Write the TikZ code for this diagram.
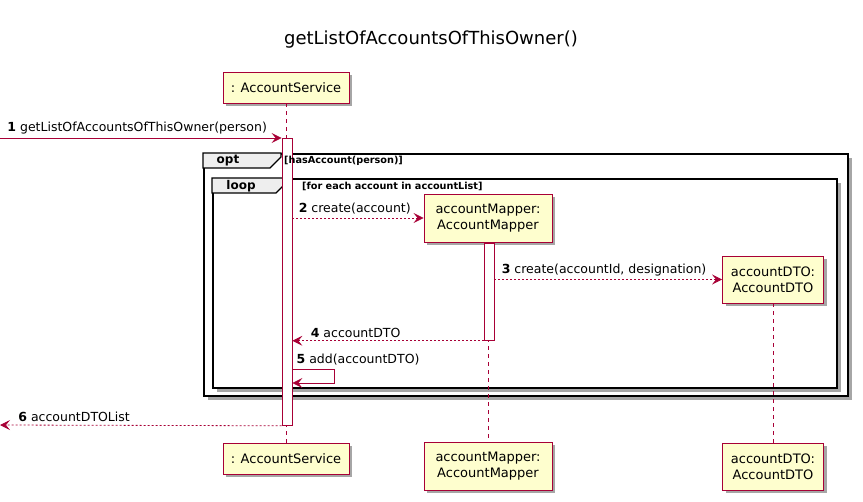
\documentclass[tikz,border=0pt]{standalone}
\usepackage{fontspec}
\setmainfont{DejaVu Sans}
\usetikzlibrary{arrows.meta, positioning, shadows}
\definecolor{umlred}{HTML}{A80036}
\definecolor{umlfill}{HTML}{FEFECE}
\definecolor{tabgray}{HTML}{EEEEEE}
\newcommand{\msgfont}{\fontsize{12.5}{15}\selectfont}
\newcommand{\guardfont}{\fontsize{9.7}{11}\selectfont\bfseries}

\begin{document}
\begin{tikzpicture}[x=1pt,y=-1pt,>={Stealth[length=10pt,width=10pt,inset=4pt]},
    umlshadow/.style={drop shadow={shadow xshift=3pt,shadow yshift=-3pt,opacity=0.35,fill=black}},
    actor/.style={draw=umlred,fill=umlfill,line width=0.9pt,align=center,inner sep=2pt,
      font=\fontsize{13}{16}\selectfont,umlshadow},
    lifeline/.style={draw=umlred,dashed,dash pattern=on 4pt off 4pt,line width=0.7pt},
    actbar/.style={draw=umlred,fill=white,line width=0.8pt,minimum width=10pt,inner sep=0pt},
    frame/.style={draw=black,fill=white,line width=1.6pt,inner sep=0pt,
      drop shadow={shadow xshift=4pt,shadow yshift=-4pt,opacity=0.35,fill=black}},
    tabbox/.style={draw=black,fill=tabgray,line width=1.2pt},
    tabtag/.style={font=\fontsize{12}{14}\selectfont\bfseries,inner sep=0pt},
    msg/.style={->,draw=umlred,line width=0.8pt},
    reply/.style={msg,dash pattern=on 2pt off 2pt},
    msglabel/.style={font=\msgfont,inner sep=1pt,anchor=south west}]
  \useasboundingbox (0,0) rectangle (863,502);

  % title
  \node[font=\fontsize{18}{21}\selectfont] (title) at (431,40) {getListOfAccountsOfThisOwner()};

  % fragments
  \node[frame,minimum width=644pt,minimum height=242pt,anchor=north west] (optFrame) at (203,153) {};
  \draw[tabbox] (optFrame.north west) -- (281,153) -- (281,157) -- (270,168) -- (203,168) -- cycle;
  \node[tabtag] (optTag) at (228,161) {opt};

  \node[frame,minimum width=624pt,minimum height=209pt,anchor=north west] (loopFrame) at (212,178) {};
  \draw[tabbox] (loopFrame.north west) -- (287,178) -- (287,182) -- (276,193) -- (212,193) -- cycle;
  \node[tabtag] (loopTag) at (241,186) {loop};

  % participants, top and bottom
  \node[actor,minimum width=126pt,minimum height=31pt] (svcTop) at (286,87.5) {: AccountService};
  \node[actor,minimum width=126pt,minimum height=31pt] (svcBot) at (286,458.5) {: AccountService};
  \node[actor,minimum width=128pt,minimum height=48pt] (mapTop) at (488,218) {accountMapper:\\AccountMapper};
  \node[actor,minimum width=128pt,minimum height=48pt] (mapBot) at (488,466.5) {accountMapper:\\AccountMapper};
  \node[actor,minimum width=101pt,minimum height=47pt] (dtoTop) at (773,279.5) {accountDTO:\\AccountDTO};
  \node[actor,minimum width=101pt,minimum height=47pt] (dtoBot) at (773,466.5) {accountDTO:\\AccountDTO};

  % lifelines
  \draw[lifeline] (svcTop.south) -- (svcBot.north);
  \draw[lifeline] (mapTop.south) -- (mapBot.north);
  \draw[lifeline] (dtoTop.south) -- (dtoBot.north);

  % activations
  \node[actbar,minimum height=287pt,anchor=north] (svcAct) at (287,138) {};
  \node[actbar,minimum height=97pt,anchor=north] (mapAct) at (489,243) {};

  % guards
  \node[font=\guardfont,anchor=west,inner sep=0pt] (optGuard) at (284,161) {[hasAccount(person)]};
  \node[font=\guardfont,anchor=west,inner sep=0pt] (loopGuard) at (302,186) {[for each account in accountList]};

  % messages
  \coordinate (in1) at (0,138);
  \coordinate (out6) at (0,425);
  \coordinate (self5) at (svcAct.east |- 0,369);
  \draw[msg] (in1) -- node[msglabel,pos=0,xshift=6pt,yshift=2pt] {\textbf{1} getListOfAccountsOfThisOwner(person)} (svcAct.north west);
  \draw[reply] (svcAct.east |- mapTop.west) -- node[msglabel,pos=0,xshift=5pt,yshift=2pt] {\textbf{2} create(account)} (mapTop.west);
  \draw[reply] (mapAct.east |- dtoTop.west) -- node[msglabel,pos=0,xshift=6pt,yshift=2pt] {\textbf{3} create(accountId, designation)} (dtoTop.west);
  \draw[reply] (mapAct.south west) -- node[msglabel,pos=1,xshift=17pt,yshift=2pt] {\textbf{4} accountDTO} (svcAct.east |- mapAct.south);
  \draw[msg] (self5) -- ++(42,0) -- ++(0,14) -- ++(-42,0);
  \node[msglabel] (lbl5) at ([xshift=3pt,yshift=3pt]self5) {\textbf{5} add(accountDTO)};
  \draw[reply] (svcAct.south west) -- node[msglabel,pos=1,xshift=17pt,yshift=2pt] {\textbf{6} accountDTOList} (out6);
\end{tikzpicture}
\end{document}
